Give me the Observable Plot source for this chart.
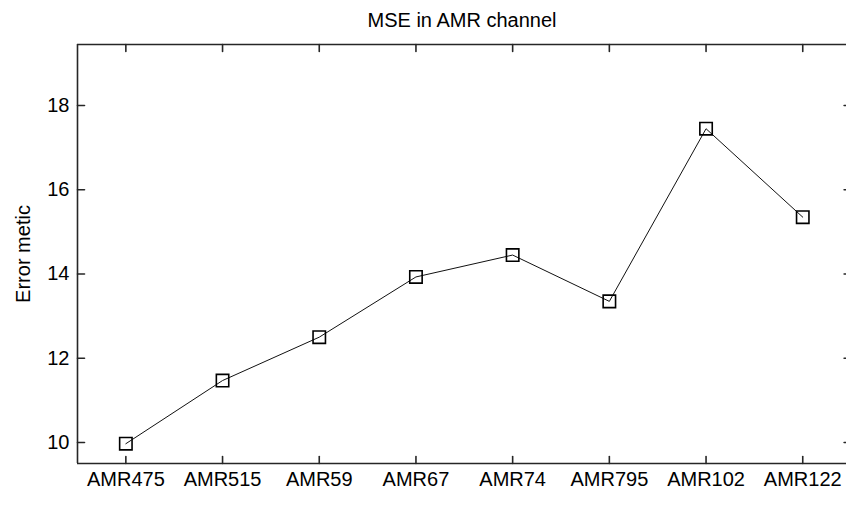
<!DOCTYPE html>
<html><head><meta charset="utf-8">
<script src="https://cdn.jsdelivr.net/npm/d3@7"></script>
<script src="https://cdn.jsdelivr.net/npm/@observablehq/plot@0.6"></script>
<style>body{margin:0;background:#fff;} #chart svg{overflow:hidden;display:block}</style>
</head><body><div id="chart"></div>
<script>
const categories = ["AMR475","AMR515","AMR59","AMR67","AMR74","AMR795","AMR102","AMR122"];
const values = [9.97, 11.47, 12.5, 13.93, 14.45, 13.35, 17.45, 15.35];
const yTicks = [10, 12, 14, 16, 18];
const title = "MSE in AMR channel";
const yLabel = "Error metic";

const data = categories.map((c, i) => ({i: i + 1, cat: c, v: values[i]}));
const xIdx = data.map(d => d.i);
const xDomain = [0.5, categories.length + 0.5];
const yDomain = [9.5, 19.45];

const tickShape = {draw(ctx, l) { ctx.moveTo(0, 0); ctx.lineTo(0, -l); }};
const T = 7;
const boxColor = "#262626";

const chart = Plot.plot({
  width: 846,
  height: 515,
  marginLeft: 77,
  marginRight: 0,
  marginTop: 44,
  marginBottom: 52,
  style: {fontFamily: "Liberation Sans, Arial, sans-serif", fontSize: "20px", background: "#fff", color: "#000"},
  x: {domain: xDomain, range: [77, 850.6]},
  y: {domain: yDomain, range: [463, 44]},
  marks: [
    Plot.ruleY(yDomain, {y: d => d, x1: xDomain[0], x2: xDomain[1], stroke: boxColor, strokeWidth: 1.6}),
    Plot.ruleX(xDomain, {x: d => d, y1: yDomain[0], y2: yDomain[1], stroke: boxColor, strokeWidth: 1.6}),
    Plot.vector(xIdx, {x: d => d, y: yDomain[0], length: T, rotate: 0, anchor: "start", shape: tickShape, stroke: boxColor, strokeWidth: 1.6}),
    Plot.vector(xIdx, {x: d => d, y: yDomain[1], length: T, rotate: 180, anchor: "start", shape: tickShape, stroke: boxColor, strokeWidth: 1.6}),
    Plot.vector(yTicks, {x: xDomain[0], y: d => d, length: T, rotate: 90, anchor: "start", shape: tickShape, stroke: boxColor, strokeWidth: 1.6}),
    Plot.vector(yTicks, {x: xDomain[1], y: d => d, length: T, rotate: -90, anchor: "start", shape: tickShape, stroke: boxColor, strokeWidth: 1.6}),
    Plot.line(data, {x: "i", y: "v", stroke: "#111", strokeWidth: 1}),
    Plot.dot(data, {x: "i", y: "v", symbol: "square", r: 7, fill: "none", stroke: "#000", strokeWidth: 1.6}),
    Plot.axisX({ticks: xIdx, tickFormat: i => categories[i - 1], tickSize: 0, tickPadding: 8, label: null, fill: "#000"}),
    Plot.axisY({ticks: yTicks, tickSize: 0, tickPadding: 8, label: null, fill: "#000"}),
    Plot.text([title], {frameAnchor: "top", text: d => d, dy: -24, lineAnchor: "middle", fill: "#000"}),
    Plot.text([yLabel], {x: xDomain[0], y: d3.mean(yDomain), text: d => d, rotate: -90, dx: -54, textAnchor: "middle", lineAnchor: "middle", fill: "#000"})
  ]
});
document.getElementById("chart").appendChild(chart);
</script>
</body></html>
